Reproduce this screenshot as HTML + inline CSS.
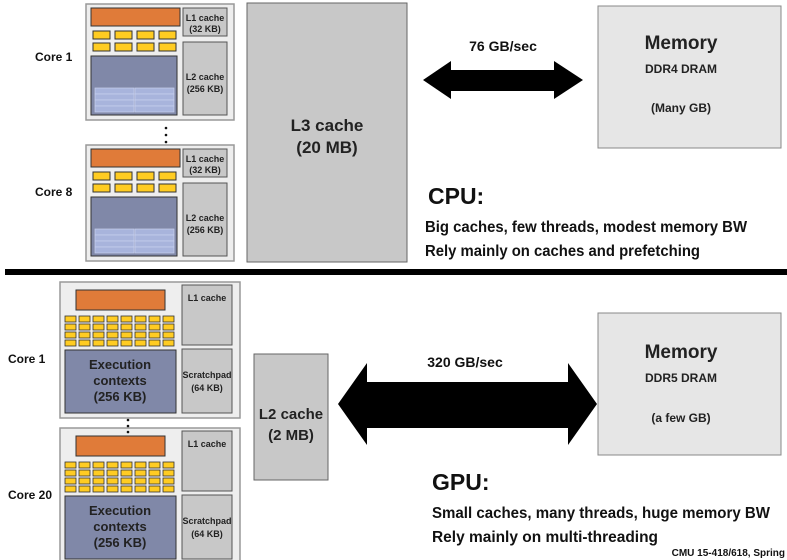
<!DOCTYPE html>
<html><head><meta charset="utf-8"><style>
html,body{margin:0;padding:0;background:#fff;}
svg{display:block;font-family:"Liberation Sans Narrow","Liberation Sans",sans-serif;font-weight:bold;}
</style></head><body>
<svg width="787" height="560" viewBox="0 0 787 560" xmlns="http://www.w3.org/2000/svg">
<defs>
<g id="cpucore">
<rect x="0" y="0" width="148" height="116" fill="#eeeeee" stroke="#999" stroke-width="1.5"/>
<rect x="5" y="4" width="89" height="18" fill="#e07b39" stroke="#333"/>
<g fill="#ffcc22" stroke="#333">
<rect x="7" y="27" width="17" height="8"/><rect x="29" y="27" width="17" height="8"/><rect x="51" y="27" width="17" height="8"/><rect x="73" y="27" width="17" height="8"/>
<rect x="7" y="39" width="17" height="8"/><rect x="29" y="39" width="17" height="8"/><rect x="51" y="39" width="17" height="8"/><rect x="73" y="39" width="17" height="8"/>
</g>
<rect x="5" y="52" width="86" height="59" fill="#8088a8" stroke="#333"/>
<g fill="#a8b4dc" stroke="#c8d0ee" stroke-width="0.7">
<rect x="9" y="84" width="39" height="6"/><rect x="49" y="84" width="39" height="6"/>
<rect x="9" y="90" width="39" height="6"/><rect x="49" y="90" width="39" height="6"/>
<rect x="9" y="96" width="39" height="6"/><rect x="49" y="96" width="39" height="6"/>
<rect x="9" y="102" width="39" height="6"/><rect x="49" y="102" width="39" height="6"/>
</g>
<rect x="97" y="4" width="44" height="28" fill="#c8c8c8" stroke="#555"/>
<rect x="97" y="38" width="44" height="73" fill="#c8c8c8" stroke="#555"/>
</g>
<g id="gpucore">
<rect x="0" y="0" width="180" height="136" fill="#eeeeee" stroke="#999" stroke-width="1.5"/>
<rect x="16" y="8" width="89" height="20" fill="#e07b39" stroke="#333"/>
<g fill="#ffcc22" stroke="#333" stroke-width="0.8">
<rect x="5" y="34" width="11" height="6"/><rect x="19" y="34" width="11" height="6"/><rect x="33" y="34" width="11" height="6"/><rect x="47" y="34" width="11" height="6"/><rect x="61" y="34" width="11" height="6"/><rect x="75" y="34" width="11" height="6"/><rect x="89" y="34" width="11" height="6"/><rect x="103" y="34" width="11" height="6"/>
<rect x="5" y="42" width="11" height="6"/><rect x="19" y="42" width="11" height="6"/><rect x="33" y="42" width="11" height="6"/><rect x="47" y="42" width="11" height="6"/><rect x="61" y="42" width="11" height="6"/><rect x="75" y="42" width="11" height="6"/><rect x="89" y="42" width="11" height="6"/><rect x="103" y="42" width="11" height="6"/>
<rect x="5" y="50" width="11" height="6"/><rect x="19" y="50" width="11" height="6"/><rect x="33" y="50" width="11" height="6"/><rect x="47" y="50" width="11" height="6"/><rect x="61" y="50" width="11" height="6"/><rect x="75" y="50" width="11" height="6"/><rect x="89" y="50" width="11" height="6"/><rect x="103" y="50" width="11" height="6"/>
<rect x="5" y="58" width="11" height="6"/><rect x="19" y="58" width="11" height="6"/><rect x="33" y="58" width="11" height="6"/><rect x="47" y="58" width="11" height="6"/><rect x="61" y="58" width="11" height="6"/><rect x="75" y="58" width="11" height="6"/><rect x="89" y="58" width="11" height="6"/><rect x="103" y="58" width="11" height="6"/>
</g>
<rect x="5" y="68" width="111" height="63" fill="#8088a8" stroke="#333"/>
<rect x="122" y="3" width="50" height="60" fill="#c8c8c8" stroke="#555"/>
<rect x="122" y="67" width="50" height="64" fill="#c8c8c8" stroke="#555"/>
</g>
</defs>

<!-- CPU -->
<use href="#cpucore" x="86" y="4"/>
<use href="#cpucore" x="86" y="145"/>
<g font-size="9" text-anchor="middle" fill="#222">
<text x="205" y="21">L1 cache</text><text x="205" y="32">(32 KB)</text>
<text x="205" y="80">L2 cache</text><text x="205" y="92">(256 KB)</text>
<text x="205" y="162">L1 cache</text><text x="205" y="173">(32 KB)</text>
<text x="205" y="221">L2 cache</text><text x="205" y="233">(256 KB)</text>
</g>
<g font-size="12" fill="#111">
<text x="35" y="61">Core 1</text>
<text x="35" y="196">Core 8</text>
</g>
<g fill="#111"><circle cx="166" cy="128" r="1.3"/><circle cx="166" cy="135" r="1.3"/><circle cx="166" cy="142" r="1.3"/></g>

<rect x="247" y="3" width="160" height="259" fill="#c8c8c8" stroke="#666"/>
<g font-size="17" text-anchor="middle" fill="#222"><text x="327" y="131">L3 cache</text><text x="327" y="153">(20 MB)</text></g>

<rect x="598" y="6" width="183" height="142" fill="#e6e6e6" stroke="#888"/>
<g text-anchor="middle" fill="#222"><text x="681" y="49" font-size="19">Memory</text><text x="681" y="73" font-size="12">DDR4 DRAM</text><text x="681" y="112" font-size="12">(Many GB)</text></g>

<polygon points="423,80 451,61 451,70 554,70 554,61 583,80 554,99 554,91 451,91 451,99" fill="#000"/>
<text x="503" y="51" font-size="14" text-anchor="middle" fill="#111">76 GB/sec</text>

<text x="428" y="204" font-size="23" fill="#111">CPU:</text>
<text x="425" y="232" font-size="16" fill="#111" textLength="322" lengthAdjust="spacingAndGlyphs">Big caches, few threads, modest memory BW</text>
<text x="425" y="256" font-size="16" fill="#111" textLength="275" lengthAdjust="spacingAndGlyphs">Rely mainly on caches and prefetching</text>

<rect x="5" y="269" width="782" height="6" fill="#000"/>

<!-- GPU -->
<use href="#gpucore" x="60" y="282"/>
<use href="#gpucore" x="60" y="428"/>
<g font-size="13" text-anchor="middle" fill="#222">
<text x="120" y="369">Execution</text><text x="120" y="385">contexts</text><text x="120" y="401">(256 KB)</text>
<text x="120" y="515">Execution</text><text x="120" y="531">contexts</text><text x="120" y="547">(256 KB)</text>
</g>
<g font-size="9" text-anchor="middle" fill="#222">
<text x="207" y="301">L1 cache</text><text x="207" y="378">Scratchpad</text><text x="207" y="391">(64 KB)</text>
<text x="207" y="447">L1 cache</text><text x="207" y="524">Scratchpad</text><text x="207" y="537">(64 KB)</text>
</g>
<g font-size="12" fill="#111"><text x="8" y="363">Core 1</text><text x="8" y="499">Core 20</text></g>
<g fill="#111"><circle cx="128" cy="420" r="1.3"/><circle cx="128" cy="426" r="1.3"/><circle cx="128" cy="432" r="1.3"/></g>

<rect x="254" y="354" width="74" height="126" fill="#c8c8c8" stroke="#666"/>
<g font-size="15" text-anchor="middle" fill="#222"><text x="291" y="419">L2 cache</text><text x="291" y="440">(2 MB)</text></g>

<rect x="598" y="313" width="183" height="142" fill="#e6e6e6" stroke="#888"/>
<g text-anchor="middle" fill="#222"><text x="681" y="358" font-size="19">Memory</text><text x="681" y="382" font-size="12">DDR5 DRAM</text><text x="681" y="422" font-size="12">(a few GB)</text></g>

<polygon points="338,404 367,363 367,382 568,382 568,363 597,404 568,445 568,428 367,428 367,445" fill="#000"/>
<text x="465" y="367" font-size="14" text-anchor="middle" fill="#111">320 GB/sec</text>

<text x="432" y="490" font-size="23" fill="#111">GPU:</text>
<text x="432" y="518" font-size="16" fill="#111" textLength="338" lengthAdjust="spacingAndGlyphs">Small caches, many threads, huge memory BW</text>
<text x="432" y="542" font-size="16" fill="#111" textLength="226" lengthAdjust="spacingAndGlyphs">Rely mainly on multi-threading</text>
<text x="785" y="556" font-size="10" text-anchor="end" fill="#111">CMU 15-418/618, Spring</text>
</svg>
</body></html>
